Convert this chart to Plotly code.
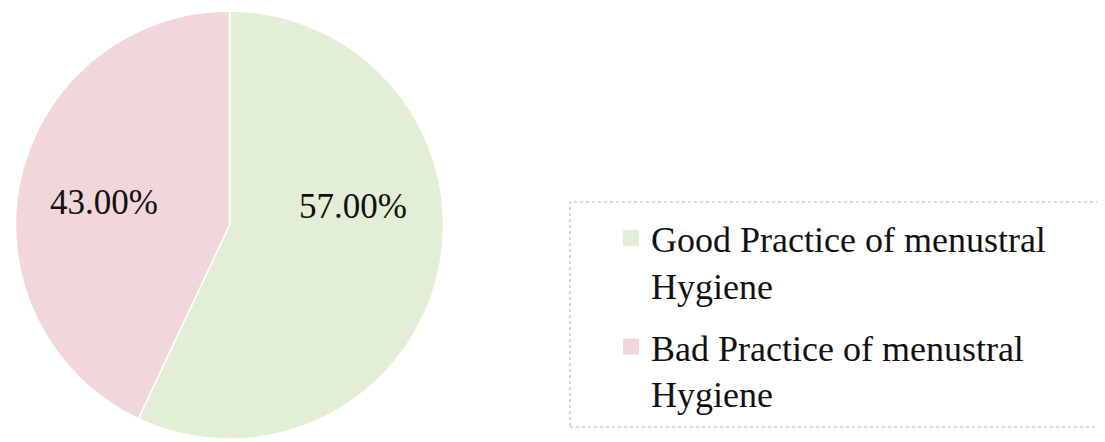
import plotly.graph_objects as go

# ---- data ----
categories = ["Good Practice of menustral Hygiene", "Bad Practice of menustral Hygiene"]
legend_labels = ["Good Practice of menustral<br>Hygiene", "Bad Practice of menustral<br>Hygiene"]
values = [57.0, 43.0]
colors = ["#E3EED6", "#F1D6DA"]

# page body has an 8px margin, so the figure is sized to fit the window
W, H = 1097, 434
OFF = 8  # page offset of the figure
FONT = "Liberation Serif, Times New Roman, serif"


def px(x):
    return (x - OFF) / W


def py(y):
    return 1 - (y - OFF) / H


fig = go.Figure()
fig.add_trace(go.Pie(
    labels=categories, values=values, sort=False,
    direction="clockwise", rotation=0,
    marker=dict(colors=colors, line=dict(color="white", width=1.5)),
    textinfo="none", hoverinfo="label+percent", showlegend=False,
    domain=dict(x=[px(15.5), px(443.5)], y=[0, 1]),
))

# percentage labels (text from values)
label_pos = [(353, 206.5), (104, 202.5)]
for v, (lx, ly) in zip(values, label_pos):
    fig.add_annotation(text=f"{v:.2f}%", x=px(lx), y=py(ly), xref="paper", yref="paper",
                       xanchor="center", yanchor="middle", showarrow=False,
                       font=dict(family=FONT, size=35, color="#111111"))

# legend entries
for cat, lab, c in zip(categories, legend_labels, colors):
    fig.add_trace(go.Scatter(x=[None], y=[None], mode="markers", name=lab, legendgroup=cat,
                             marker=dict(symbol="square", size=16, color=c), hoverinfo="skip"))

# dotted legend frame
fig.add_shape(type="rect", xref="paper", yref="paper",
              x0=px(570), x1=1.02, y0=py(427), y1=py(202),
              line=dict(color="#9FB6E2", width=1, dash="dot"))

fig.update_layout(
    width=W, height=H,
    margin=dict(l=0, r=0, t=0, b=0),
    paper_bgcolor="white", plot_bgcolor="white",
    xaxis=dict(visible=False), yaxis=dict(visible=False),
    showlegend=True,
    legend=dict(x=px(611), xanchor="left", y=py(208), yanchor="top",
                traceorder="grouped", tracegroupgap=12, valign="top",
                font=dict(family=FONT, size=36, color="#111111"),
                bgcolor="rgba(0,0,0,0)", borderwidth=0),
)

fig.write_html("out.html")
